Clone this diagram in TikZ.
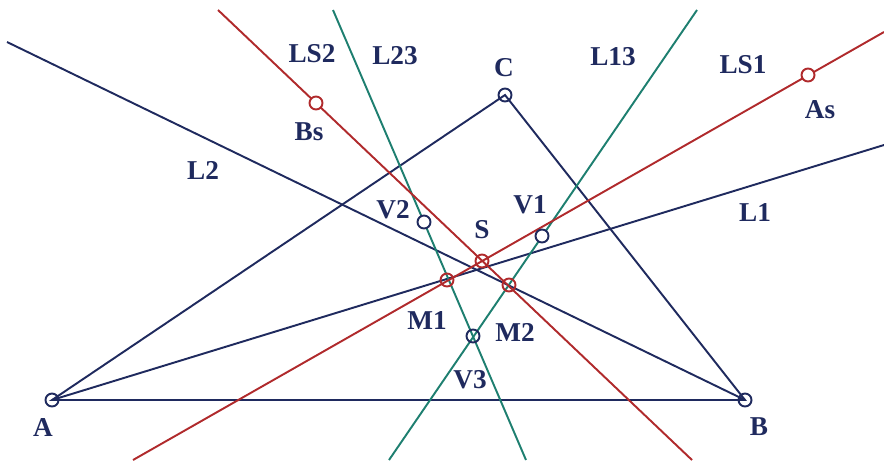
\documentclass[tikz,border=0pt]{standalone}
\usepackage{fontspec}
\setmainfont{Liberation Serif}
\definecolor{navy}{HTML}{1F2A5E}
\definecolor{darkred}{HTML}{B02A2C}
\definecolor{teal}{HTML}{1E7F70}
\begin{document}
\begin{tikzpicture}[x=0.02cm, y=-0.02cm, line width=1.1pt, font=\bfseries\fontsize{15.5}{18}\selectfont]
        \tikzset{pt/.style={circle, draw=navy, line width=1.1pt, minimum size=0.26cm, inner sep=0pt},
                 spt/.style={pt, draw=darkred},
                 lbl/.style={text=navy, inner sep=0pt}}
        \useasboundingbox (0,0) rectangle (884,460);
        % points
        \coordinate (A) at (52,400);
        \coordinate (B) at (745,400);
        \coordinate (C) at (505,95);
        \coordinate (As) at (808,75);
        \coordinate (Bs) at (316,103);
        \coordinate (S) at (482,261);
        \coordinate (M1) at (447,280);
        \coordinate (M2) at (509,285);
        \coordinate (V1) at (542,236);
        \coordinate (V2) at (424,222);
        \coordinate (V3) at (473,336);
        % free ends of the lines
        \coordinate (l2start) at (7,42);
        \coordinate (l1end) at (884,145);
        \coordinate (ls2top) at (218,10);
        \coordinate (ls2bot) at (692,460);
        \coordinate (ls1bot) at (133,460);
        \coordinate (ls1top) at (884,32);
        \coordinate (l23top) at (333,10);
        \coordinate (l23bot) at (526,460);
        \coordinate (l13top) at (697,10);
        \coordinate (l13bot) at (389,460);
        % lines
        \draw[navy] (A) -- (B) -- (C) -- cycle;
        \draw[navy] (l2start) -- (B);
        \draw[navy] (A) -- (l1end);
        \draw[teal] (l23top) -- (l23bot);
        \draw[teal] (l13top) -- (l13bot);
        \draw[darkred] (ls2top) -- (ls2bot);
        \draw[darkred] (ls1bot) -- (ls1top);
        % circles
        \node[pt] (a) at (A) {};
        \node[pt] (b) at (B) {};
        \node[pt] (c) at (C) {};
        \node[pt, fill=white] (v1) at (V1) {};
        \node[pt, fill=white] (v2) at (V2) {};
        \node[pt] (v3) at (V3) {};
        \node[spt, fill=white] (as) at (As) {};
        \node[spt, fill=white] (bs) at (Bs) {};
        \node[spt] (s) at (S) {};
        \node[spt] (m1) at (M1) {};
        \node[spt] (m2) at (M2) {};
        % labels
        \node[lbl] (labA) at (43,427) {A};
        \node[lbl] (labB) at (759,427) {B};
        \node[lbl] (labC) at (504,68) {C};
        \node[lbl] (labAs) at (820,110) {As};
        \node[lbl] (labBs) at (309,132) {Bs};
        \node[lbl] (labS) at (482,230) {S};
        \node[lbl] (labM1) at (427,321) {M1};
        \node[lbl] (labM2) at (515,332) {M2};
        \node[lbl] (labV1) at (530,205) {V1};
        \node[lbl] (labV2) at (393,210) {V2};
        \node[lbl] (labV3) at (470,380) {V3};
        \node[lbl] (labL1) at (755,213) {L1};
        \node[lbl] (labL2) at (203,170) {L2};
        \node[lbl] (labL13) at (613,57) {L13};
        \node[lbl] (labL23) at (395,56) {L23};
        \node[lbl] (labLS1) at (743,65) {LS1};
        \node[lbl] (labLS2) at (312,54) {LS2};
\end{tikzpicture}
\end{document}
